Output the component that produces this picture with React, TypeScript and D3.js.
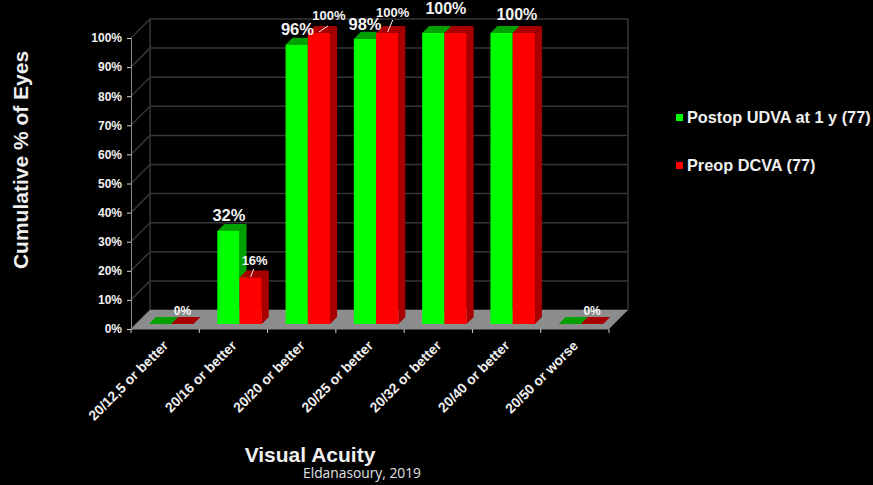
import * as d3 from 'd3';
import { useEffect, useRef } from 'react';

const WIDTH = 873;
const HEIGHT = 485;

const categories = [
  '20/12,5 or better',
  '20/16 or better',
  '20/20 or better',
  '20/25 or better',
  '20/32 or better',
  '20/40 or better',
  '20/50 or worse',
];
const postopValues = [0, 32, 96, 98, 100, 100, 0];
const preopValues = [0, 16, 100, 100, 100, 100, 0];
const yTicks = [0, 10, 20, 30, 40, 50, 60, 70, 80, 90, 100];
const seriesNames = ['Postop UDVA at 1 y (77)', 'Preop DCVA (77)'];

// hand placed value labels, offsets are from the bar top centre
const postopLabels = [
  { i: 1, text: '32%', dx: 0.5, dy: -10, size: 16.5 },
  { i: 2, text: '96%', dx: 0.7, dy: -9.6, size: 16.5 },
  { i: 3, text: '98%', dx: 0, dy: -9, size: 16.5 },
  { i: 4, text: '100%', dx: 12.6, dy: -19, size: 16 },
  { i: 5, text: '100%', dx: 15.3, dy: -13, size: 16 },
];
const preopLabels = [
  { i: 0, text: '0%', dx: 0, dy: -9, size: 12, leader: null },
  { i: 1, text: '16%', dx: 4, dy: -12.4, size: 13, leader: [-1, 4, -4, 12] },
  { i: 2, text: '100%', dx: 10, dy: -13, size: 13, leader: [-1, 6, -10, 12] },
  { i: 3, text: '100%', dx: 5.5, dy: -16, size: 13, leader: [0, 3, -5, 15] },
  { i: 6, text: '0%', dx: 0, dy: -9, size: 12, leader: null },
];

const MARGIN = { top: 38, left: 131, right: 609, bottom: 329 };
const DEPTH = 19; // wall offset of the 3d box
const BAR_OFFSET = 5; // bars stand this far back from the front edge
const BAR_DEPTH = 7;
const BAR_WIDTH = 22.25;

const GREEN = '#00ff00';
const GREEN_DARK = '#00a000';
const RED = '#ff0000';
const RED_DARK = '#a80000';
const SANS = 'Liberation Sans, Arial, sans-serif';

const xScale = d3
  .scaleBand<string>()
  .domain(categories)
  .range([MARGIN.left, MARGIN.right]);
const yScale = d3
  .scaleLinear()
  .domain([0, 100])
  .range([MARGIN.bottom, MARGIN.top]);

const poly = d3.line<[number, number]>();

const Bar = ({ x, value, front, dark, top }: { x: number; value: number; front: string; dark: string; top: string }) => {
  const y0 = yScale(0) - BAR_OFFSET;
  const y1 = yScale(value) - BAR_OFFSET;
  const x1 = x + BAR_WIDTH;
  const d = BAR_DEPTH;
  return (
    <g>
      <path d={poly([[x, y1], [x + d, y1 - d], [x1 + d, y1 - d], [x1, y1]]) + 'Z'} fill={top} />
      <path d={poly([[x1, y0], [x1 + d, y0 - d], [x1 + d, y1 - d], [x1, y1]]) + 'Z'} fill={dark} />
      {value > 0 && <rect x={x} y={y1} width={BAR_WIDTH} height={y0 - y1} fill={front} />}
    </g>
  );
};

export default function App() {
  const axesRef = useRef<SVGGElement | null>(null);

  useEffect(() => {
    const g = d3.select(axesRef.current);
    g.selectAll('*').remove();

    const yAxis = d3
      .axisLeft(yScale)
      .tickValues(yTicks)
      .tickFormat((d) => `${d}%`)
      .tickSize(4)
      .tickPadding(5);
    const yG = g.append('g').attr('transform', `translate(${MARGIN.left},0)`).call(yAxis);
    yG.selectAll('path').attr('stroke', '#8c8c8c').attr('stroke-width', 1);
    yG.selectAll('line').attr('stroke', '#cfcfcf');
    yG.selectAll('text')
      .attr('fill', '#f0f0f0')
      .attr('font-family', SANS)
      .attr('font-weight', 700)
      .attr('font-size', 12);

    // ticks sit on the band edges, the labels on the band centres
    const bandEdges = categories.map((c) => xScale(c) as number).concat(MARGIN.right);
    const xG = g.append('g');
    xG.append('line')
      .attr('x1', MARGIN.left)
      .attr('x2', MARGIN.right)
      .attr('y1', MARGIN.bottom)
      .attr('y2', MARGIN.bottom)
      .attr('stroke', '#8c8c8c');
    xG.selectAll('line.tick')
      .data(bandEdges)
      .join('line')
      .attr('class', 'tick')
      .attr('x1', (d) => d)
      .attr('x2', (d) => d)
      .attr('y1', MARGIN.bottom)
      .attr('y2', MARGIN.bottom + 4)
      .attr('stroke', '#cfcfcf');
    xG.selectAll('text')
      .data(categories)
      .join('text')
      .attr('text-anchor', 'end')
      .attr('transform', (d) => {
        const x = (xScale(d) as number) + xScale.bandwidth() / 2 + 4;
        return `translate(${x},${MARGIN.bottom + 17.5}) rotate(-45)`;
      })
      .attr('fill', '#f0f0f0')
      .attr('font-family', SANS)
      .attr('font-weight', 700)
      .attr('font-size', 13.8)
      .text((d) => d);
  }, []);

  const floorBack = yScale(0) - DEPTH;

  return (
    <svg
      width={WIDTH}
      height={HEIGHT}
      style={{ position: 'absolute', left: 0, top: 0, background: '#000' }}
    >
      {/* walls */}
      <g stroke="#363636" strokeWidth={1.5} fill="none">
        {yTicks.map((t) => (
          <g key={t}>
            <line x1={MARGIN.left} x2={MARGIN.left + DEPTH} y1={yScale(t)} y2={yScale(t) - DEPTH} />
            <line x1={MARGIN.left + DEPTH} x2={MARGIN.right + DEPTH} y1={yScale(t) - DEPTH} y2={yScale(t) - DEPTH} />
          </g>
        ))}
        <line x1={MARGIN.left + DEPTH} x2={MARGIN.left + DEPTH} y1={yScale(100) - DEPTH} y2={floorBack} />
        <line x1={MARGIN.right + DEPTH} x2={MARGIN.right + DEPTH} y1={yScale(100) - DEPTH} y2={floorBack} />
      </g>

      {/* floor */}
      <path
        d={
          poly([
            [MARGIN.left, yScale(0)],
            [MARGIN.left + DEPTH, floorBack],
            [MARGIN.right + DEPTH, floorBack],
            [MARGIN.right, yScale(0)],
          ]) + 'Z'
        }
        fill="#8c8c8c"
      />

      <g ref={axesRef} />

      {/* bars */}
      {categories.map((c, i) => {
        const x = (xScale(c) as number) + 18;
        return (
          <g key={c}>
            <Bar x={x} value={postopValues[i]} front={GREEN} dark={GREEN_DARK} top={GREEN_DARK} />
            <Bar x={x + BAR_WIDTH} value={preopValues[i]} front={RED} dark={RED_DARK} top={RED_DARK} />
          </g>
        );
      })}

      {/* value labels */}
      <g fontFamily={SANS} fontWeight={700} fill="#f4f4f4" textAnchor="middle">
        {postopLabels.map((l) => {
          const cx = (xScale(categories[l.i]) as number) + 18 + BAR_WIDTH / 2;
          return (
            <text key={l.i} x={cx + l.dx} y={yScale(postopValues[l.i]) - BAR_OFFSET + l.dy} fontSize={l.size}>
              {l.text}
            </text>
          );
        })}
        {preopLabels.map((l) => {
          const tx = (xScale(categories[l.i]) as number) + 18 + BAR_WIDTH * 1.5 + l.dx;
          const ty = yScale(preopValues[l.i]) - BAR_OFFSET + l.dy;
          return (
            <g key={l.i}>
              <text x={tx} y={ty} fontSize={l.size}>
                {l.text}
              </text>
              {l.leader && (
                <line
                  x1={tx + l.leader[0]}
                  y1={ty + l.leader[1]}
                  x2={tx + l.leader[2]}
                  y2={ty + l.leader[3]}
                  stroke="#f4f4f4"
                  strokeWidth={1}
                />
              )}
            </g>
          );
        })}
      </g>

      {/* legend */}
      <g fontFamily={SANS} fontWeight={700} fontSize={16.3} fill="#f0f0f0">
        {seriesNames.map((name, i) => (
          <g key={name} transform={`translate(676,${114 + i * 48})`}>
            <rect width={7} height={7} fill={i === 0 ? GREEN : RED} />
            <text x={11} y={9}>
              {name}
            </text>
          </g>
        ))}
      </g>

      {/* titles */}
      <text
        transform="translate(27.5,160) rotate(-90)"
        textAnchor="middle"
        fontFamily={SANS}
        fontWeight={700}
        fontSize={21}
        fill="#f0f0f0"
      >
        Cumulative % of Eyes
      </text>
      <text x={310} y={462} textAnchor="middle" fontFamily={SANS} fontWeight={700} fontSize={21} fill="#f0f0f0">
        Visual Acuity
      </text>
      <text x={362} y={478} textAnchor="middle" fontFamily="Open Sans, sans-serif" fontSize={13.8} fill="#e0e0e0">
        Eldanasoury, 2019
      </text>
    </svg>
  );
}
